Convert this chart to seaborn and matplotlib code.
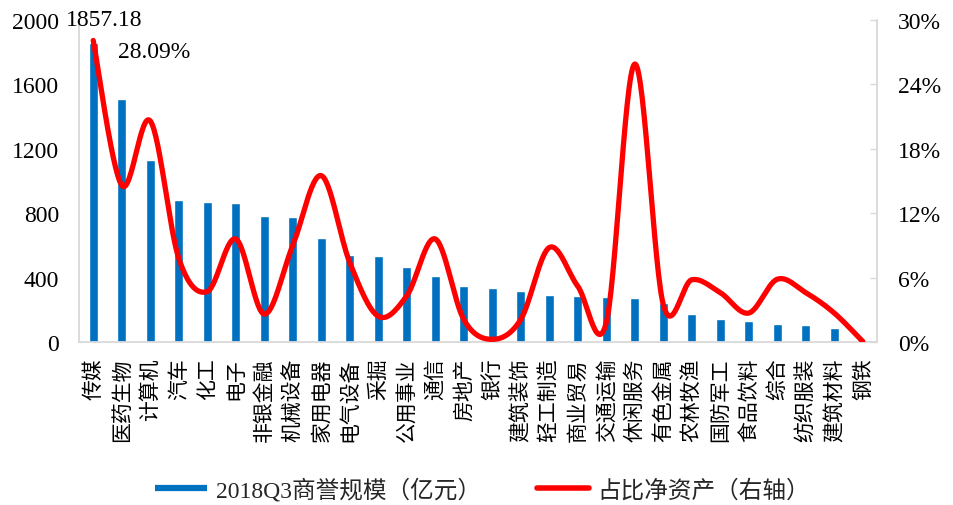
import numpy as np
import pandas as pd
import matplotlib
matplotlib.use("Agg")
import matplotlib.pyplot as plt
from matplotlib.lines import Line2D
from matplotlib.ticker import FuncFormatter
import seaborn as sns

# 2018Q3 goodwill by SW industry (100 million CNY) and its share of net assets (%)
industries = ["传媒", "医药生物", "计算机", "汽车", "化工", "电子", "非银金融", "机械设备",
              "家用电器", "电气设备", "采掘", "公用事业", "通信", "房地产", "银行", "建筑装饰",
              "轻工制造", "商业贸易", "交通运输", "休闲服务", "有色金属", "农林牧渔", "国防军工",
              "食品饮料", "综合", "纺织服装", "建筑材料", "钢铁"]
goodwill = [1857.18, 1511, 1129, 881, 870, 864, 781, 779,
            649, 540, 533, 469, 407, 347, 337, 314,
            289, 285, 279, 271, 244, 176, 143,
            128, 110, 107, 85, 2]
ratio_pct = [28.09, 14.6, 20.6, 7.8, 4.7, 9.6, 2.6, 9.0,
             15.5, 7.4, 2.4, 4.3, 9.6, 2.1, 0.25, 2.1,
             8.8, 5.2, 1.8, 25.9, 3.5, 5.8, 4.6,
             2.7, 5.85, 4.6, 2.7, 0.05]

left_ticks = [0, 400, 800, 1200, 1600, 2000]
right_ticks = [0, 6, 12, 18, 24, 30]

BAR_BLUE = "#0070C0"
LINE_RED = "#FF0000"
AXIS_GREY = "#D9D9D9"

sns.set_theme(style="white")
plt.rcParams["font.family"] = ["Liberation Serif", "Noto Sans CJK SC"]
plt.rcParams["axes.unicode_minus"] = False


def smooth_curve(xs, ys, n=30):
    """Bezier smoothing through every point (control points from neighbours, tension 1/6)."""
    pts = np.column_stack([xs, ys]).astype(float)
    ext = np.vstack([pts[0], pts, pts[-1]])
    t = np.linspace(0, 1, n, endpoint=False)[:, None]
    out = []
    for i in range(1, len(ext) - 2):
        p0, p1, p2, p3 = ext[i - 1], ext[i], ext[i + 1], ext[i + 2]
        c1 = p1 + (p2 - p0) / 6.0
        c2 = p2 - (p3 - p1) / 6.0
        seg = (1 - t) ** 3 * p1 + 3 * (1 - t) ** 2 * t * c1 + 3 * (1 - t) * t ** 2 * c2 + t ** 3 * p2
        out.append(seg)
    out.append(pts[-1][None])
    return np.vstack(out)


df = pd.DataFrame({"industry": industries, "goodwill": goodwill, "ratio": ratio_pct})

fig = plt.figure(figsize=(9.54, 5.06), dpi=100)
ax = fig.add_axes([0.0828, 0.3221, 0.8365, 0.6364])

sns.barplot(data=df, x="industry", y="goodwill", color=BAR_BLUE, saturation=1,
            width=0.3, ax=ax, zorder=2)
ax.set_xlim(-0.5, len(industries) - 0.5)
ax.set_ylim(0, 2000)
ax.set_yticks(left_ticks)
ax.set_yticklabels([str(v) for v in left_ticks])
ax.set_xlabel("")
ax.set_ylabel("")
ax.tick_params(axis="y", length=0, pad=14.4, labelsize=17, labelcolor="black")
ax.tick_params(axis="x", length=0, pad=11, labelsize=15, labelcolor="black")
for lab in ax.get_xticklabels():
    lab.set_rotation(90)
    lab.set_va("top")
    lab.set_ha("center")
    lab.set_family(["Noto Sans CJK SC"])

for side in ("left", "bottom"):
    ax.spines[side].set_color(AXIS_GREY)
    ax.spines[side].set_linewidth(1.3)
ax.spines["top"].set_visible(False)
ax.spines["right"].set_visible(False)
ax.grid(False)

ax2 = ax.twinx()
curve = smooth_curve(np.arange(len(ratio_pct)), ratio_pct)
ax2.plot(curve[:, 0], curve[:, 1], color=LINE_RED, lw=3.8,
         solid_capstyle="round", solid_joinstyle="round", zorder=3)
ax2.set_ylim(0, 30)
ax2.set_yticks(right_ticks)
ax2.yaxis.set_major_formatter(FuncFormatter(lambda v, _: f"{v:.0f}%"))
ax2.tick_params(axis="y", direction="in", length=5, width=1, color=AXIS_GREY,
                pad=15, labelsize=17, labelcolor="black")
ax2.spines["right"].set_color(AXIS_GREY)
ax2.spines["right"].set_linewidth(1.3)
for side in ("left", "top", "bottom"):
    ax2.spines[side].set_visible(False)
ax2.grid(False)

# value labels for the leading industry
ax.annotate(f"{goodwill[0]:.2f}", xy=(0, goodwill[0]), xytext=(8, 17),
            textcoords="offset points", ha="center", va="center", fontsize=17,
            color="black", zorder=5)
ax2.annotate(f"{ratio_pct[0]:.2f}%", xy=(0, ratio_pct[0]), xytext=(44, -8),
             textcoords="offset points", ha="center", va="center", fontsize=17,
             color="black", zorder=5)

handles = [
    Line2D([0], [0], color=BAR_BLUE, lw=4.5, solid_capstyle="butt"),
    Line2D([0], [0], color=LINE_RED, lw=4.0, solid_capstyle="round"),
]
labels = ["2018Q3商誉规模（亿元）", "占比净资产（右轴）"]
fig.legend(handles, labels, loc="center", bbox_to_anchor=(0.506, 0.031), ncol=2,
           frameon=False, fontsize=17, handlelength=2.2, handletextpad=0.36,
           columnspacing=2.4)

fig.savefig("out.png", dpi=100, facecolor="white")
